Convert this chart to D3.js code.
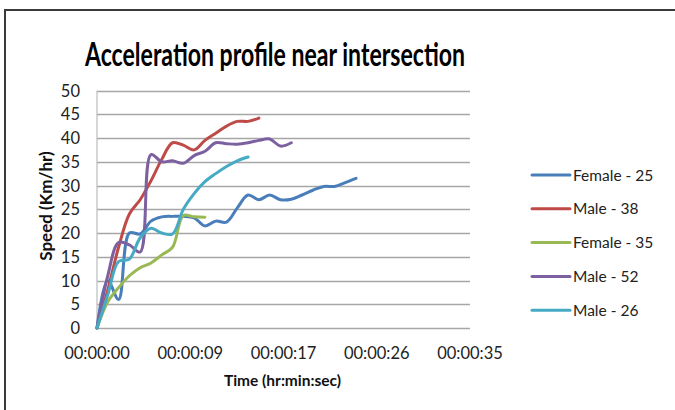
<!DOCTYPE html>
<html>
<head>
<meta charset="utf-8">
<script src="https://cdn.jsdelivr.net/npm/d3@7"></script>
<style>
    body { margin: 0; background: #fff; }
    svg { display: block; font-family: Lato, 'Liberation Sans', sans-serif; }
</style>
</head>
<body>
<svg id="chart" width="675" height="410"></svg>
<script>
// speed samples, one per second from t = 0
const female25 = [0, 10, 6, 20, 19.8, 22.5, 23.4, 23.5, 23.5, 23.2, 21.5, 22.5, 22.3, 25.3, 28, 27, 28, 27, 27.1, 28, 29, 29.8, 29.8, 30.6, 31.5]
const male38 = [0, 8, 17, 24, 27, 31, 35.5, 39, 38.5, 37.5, 39.5, 41, 42.5, 43.5, 43.5, 44.2]
const female35 = [0, 5.5, 8.5, 11, 12.7, 13.7, 15.4, 17, 23.7, 23.4, 23.3]
const male52 = [0, 11, 18, 17.5, 16, 36.5, 35, 35.2, 34.7, 36.3, 37.2, 39, 38.8, 38.7, 39, 39.5, 39.8, 38.3, 39]
const male26 = [0, 7, 14, 14.5, 19, 21, 20, 19.8, 25, 28.3, 30.8, 32.5, 34, 35.2, 36]

const seriesNames = ['Female - 25', 'Male - 38', 'Female - 35', 'Male - 52', 'Male - 26']
const seriesValues = [female25, male38, female35, male52, male26]
const seriesColors = ['#4a7ebb', '#be4b48', '#98b954', '#7d60a0', '#46aac5']

// excel time axis: major unit 0.0001 day = 8.64 s
const xTickSeconds = [0, 8.64, 17.28, 25.92, 34.56]
const xTickLabels = ['00:00:00', '00:00:09', '00:00:17', '00:00:26', '00:00:35']
const yTicks = [0, 5, 10, 15, 20, 25, 30, 35, 40, 45, 50]

const plot = { left: 97, right: 470, top: 90.5, bottom: 328 }

const svg = d3.select('#chart')

// chart area border (runs off the picture on the right and bottom)
svg.append('rect')
    .attr('x', 5).attr('y', 10)
    .attr('width', 720).attr('height', 460)
    .attr('fill', '#fff')
    .attr('stroke', '#3a3a3a')
    .attr('stroke-width', 2)

const x = d3.scaleLinear()
    .domain([0, 34.56])
    .range([plot.left, plot.right])

const y = d3.scaleLinear()
    .domain([0, 50])
    .range([plot.bottom, plot.top])

// gridlines
svg.append('g')
    .selectAll('line').data(yTicks).enter().append('line')
    .attr('x1', plot.left).attr('x2', plot.right)
    .attr('y1', d => Math.round(y(d)) + 0.5)
    .attr('y2', d => Math.round(y(d)) + 0.5)
    .attr('stroke', '#a6a6a6')
    .attr('stroke-width', 1.5)

// y axis line
svg.append('line')
    .attr('x1', plot.left).attr('x2', plot.left)
    .attr('y1', plot.top).attr('y2', plot.bottom)
    .attr('stroke', '#bdbdbd')
    .attr('stroke-width', 1.2)

// y tick labels
svg.append('g')
    .selectAll('text').data(yTicks).enter().append('text')
    .attr('x', 80)
    .attr('y', d => y(d) + 6)
    .attr('text-anchor', 'end')
    .attr('font-size', 16.5)
    .attr('fill', '#222')
    .text(d => d)

// x tick labels
svg.append('g')
    .selectAll('text').data(xTickSeconds).enter().append('text')
    .attr('x', d => x(d))
    .attr('y', 358.5)
    .attr('text-anchor', 'middle')
    .attr('font-size', 16.5)
    .attr('fill', '#222')
    .text((d, i) => xTickLabels[i])

// axis titles
svg.append('text')
    .attr('x', 282.5).attr('y', 386)
    .attr('text-anchor', 'middle')
    .attr('font-size', 15.5)
    .attr('font-weight', 'bold')
    .attr('fill', '#111')
    .text('Time (hr:min:sec)')

svg.append('text')
    .attr('transform', 'translate(52,206) rotate(-90)')
    .attr('text-anchor', 'middle')
    .attr('font-size', 17)
    .attr('font-weight', 'bold')
    .attr('fill', '#111')
    .text('Speed (Km/hr)')

// title
svg.append('text')
    .attr('x', 275).attr('y', 66)
    .attr('text-anchor', 'middle')
    .attr('font-size', 32)
    .attr('font-weight', 'bold')
    .attr('fill', '#000')
    .attr('textLength', 380)
    .attr('lengthAdjust', 'spacingAndGlyphs')
    .text('Acceleration profile near intersection')

// smoothed lines like excel
const line = d3.line()
    .x((d, i) => x(i))
    .y(d => y(d))
    .curve(d3.curveCatmullRom.alpha(0.5))

svg.append('g')
    .selectAll('path').data(seriesValues).enter().append('path')
    .attr('d', d => line(d))
    .attr('fill', 'none')
    .attr('stroke', (d, i) => seriesColors[i])
    .attr('stroke-width', 3)
    .attr('stroke-linejoin', 'round')
    .attr('stroke-linecap', 'round')

// legend
const legend = svg.append('g')
    .selectAll('g').data(seriesNames).enter().append('g')
    .attr('transform', (d, i) => `translate(532,${175 + i * 33.8})`)

legend.append('line')
    .attr('x1', 0).attr('x2', 38)
    .attr('stroke', (d, i) => seriesColors[i])
    .attr('stroke-width', 3)
    .attr('stroke-linecap', 'round')

legend.append('text')
    .attr('x', 41).attr('y', 5.5)
    .attr('font-size', 15.5)
    .attr('fill', '#222')
    .text(d => d)
</script>
</body>
</html>
